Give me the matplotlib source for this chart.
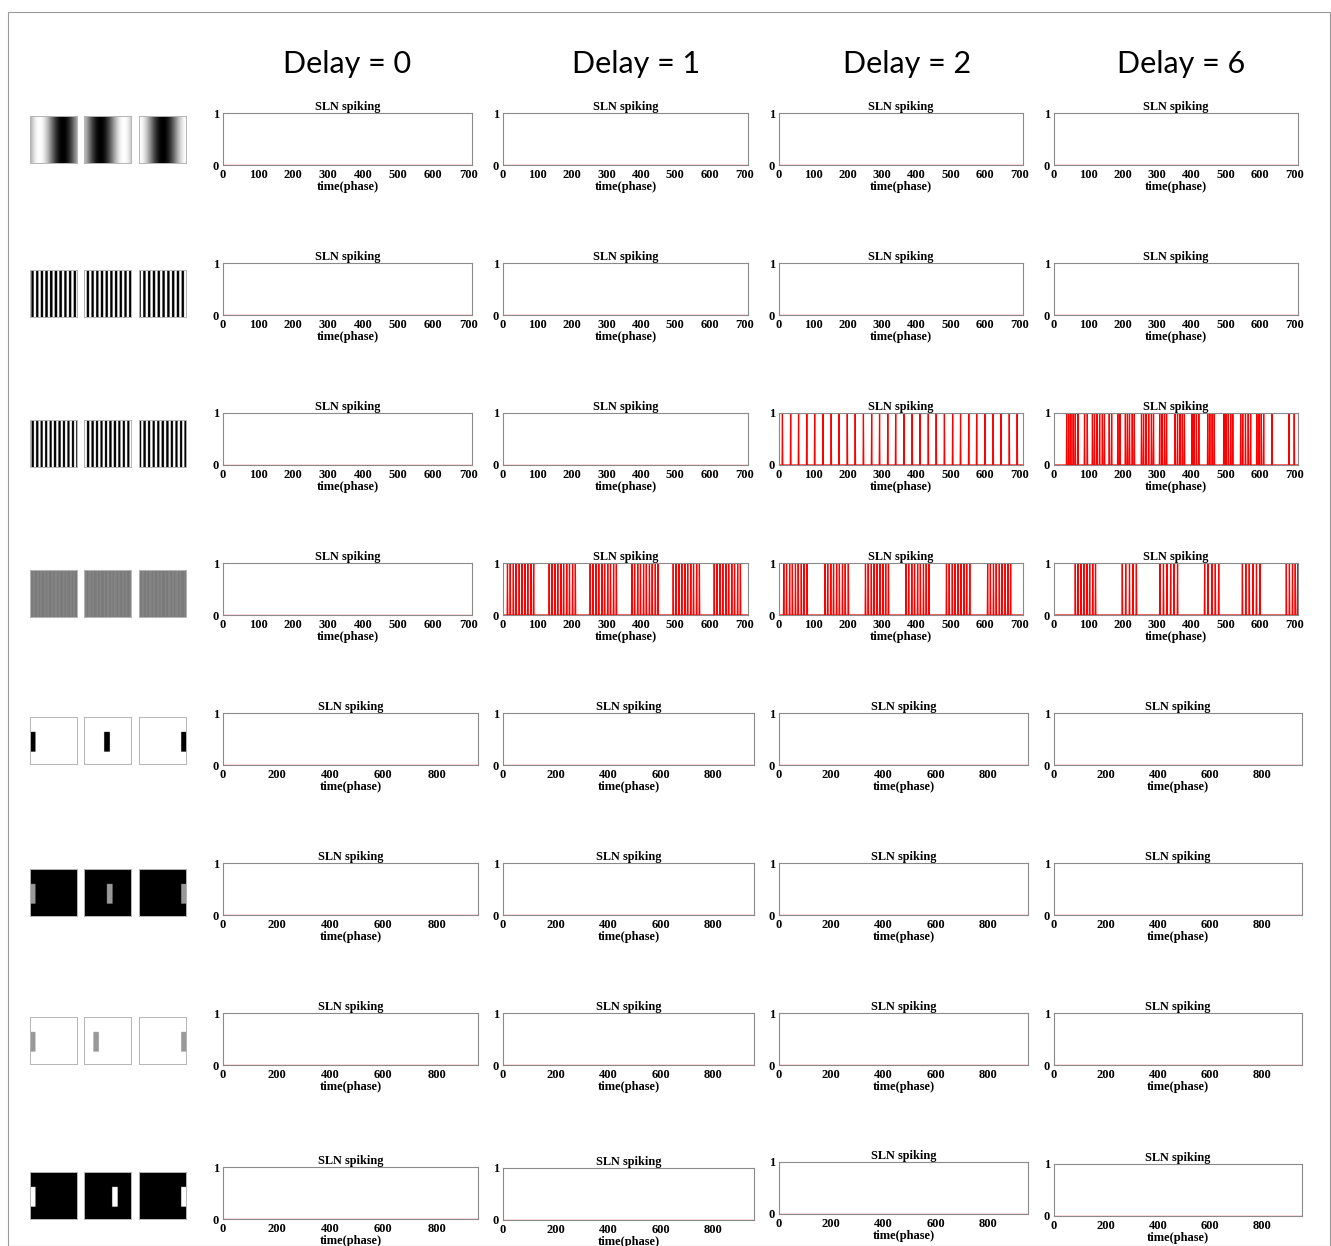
import matplotlib
matplotlib.use("Agg")
import matplotlib.pyplot as plt
from matplotlib.patches import Rectangle
import numpy as np

W, H = 1331, 1246
DPI = 100

SERIF = "Liberation Serif"
SPINE = "#8a8a8a"

delays = [0, 1, 2, 6]
# length of the recording (phases) for each stimulus row
row_length = [711, 711, 711, 711, 955, 955, 955, 955]
row_xticks = [list(range(0, 701, 100))] * 4 + [list(range(0, 801, 200))] * 4

# spike times
spikes_r3_d2 = [10, 34, 57, 81, 104, 128, 152, 175, 199, 222, 246, 270, 293,
                317, 340, 364, 388, 411, 435, 458, 482, 506, 529, 553, 576,
                600, 624, 647, 671, 694]
spikes_r3_d6 = [37, 43, 49, 56, 62, 70, 89, 97, 112, 118, 125, 133, 141, 147,
                161, 168, 186, 192, 208, 214, 220, 228, 234, 255, 261, 268,
                276, 284, 290, 308, 315, 322, 328, 353, 360, 367, 374, 380,
                402, 408, 415, 422, 448, 454, 461, 467, 495, 501, 508, 515,
                521, 544, 550, 558, 566, 573, 591, 597, 604, 611, 635, 685, 700]
spikes_r4_d1 = [13, 21, 30, 38, 47, 55, 64, 72, 81, 89,
                134, 142, 151, 159, 168, 176, 185, 193, 202, 210,
                253, 261, 270, 278, 287, 295, 304, 312, 321, 329,
                374, 382, 391, 399, 408, 416, 425, 433, 442, 450,
                494, 502, 511, 519, 528, 536, 545, 553, 562, 570,
                613, 621, 630, 638, 647, 655, 664, 672, 681, 689]
spikes_r4_d2 = [14, 22, 31, 39, 48, 56, 65, 73, 82,
                134, 142, 151, 159, 168, 176, 185, 193, 202,
                252, 260, 269, 277, 286, 294, 303, 311, 319,
                370, 378, 387, 395, 404, 412, 421, 429, 437,
                488, 496, 505, 513, 522, 530, 539, 547, 556,
                608, 616, 625, 633, 642, 650, 659, 667, 675]
spikes_r4_d6 = [62, 70, 79, 87, 96, 104, 113, 121,
                199, 209, 220, 230, 240,
                309, 319, 329, 340, 350, 360,
                439, 449, 460, 470, 480,
                549, 559, 569, 580, 590, 600,
                677, 686, 695, 703, 710]

panel_spikes = {
    (2, 2): spikes_r3_d2, (2, 3): spikes_r3_d6,
    (3, 1): spikes_r4_d1, (3, 2): spikes_r4_d2, (3, 3): spikes_r4_d6,
}

# stimulus descriptions
grating_period = [1.0, 0.1, 0.095, 0.022]          # fraction of image width
grating_phase = [[0.2, 0.85, 0.0], [0.0, 0.3, 0.6], [0.1, 0.4, 0.7], [0.0, 0.3, 0.6]]
grating_square = [False, True, True, True]
grating_contrast = [1.0, 1.0, 1.0, 0.18]
bar_bg = [1.0, 0.0, 1.0, 0.0]
bar_fg = [0.0, 0.6, 0.6, 1.0]
bar_x = [[0.0, 0.43, 0.88], [0.0, 0.49, 0.88], [0.0, 0.2, 0.88], [0.0, 0.6, 0.88]]

# layout in pixels
plot_top = [113, 263, 413, 563, 713, 863, 1013, 1167]
last_row_top = [1167, 1168, 1162, 1164]
plot_h = 52
cols_short = [(223, 472), (503, 748), (779, 1023), (1054, 1298)]
cols_long = [(223, 478), (503, 754), (779, 1028), (1054, 1302)]
title_x = [347, 636, 907, 1181]
stim_top = [116, 270, 420, 570, 717, 869, 1017, 1172]
stim_left = [30, 84, 139]
stim_size = 47


def px_axes(fig, left, top, right, bottom):
    return fig.add_axes([left / W, 1 - bottom / H, (right - left) / W, (bottom - top) / H])


def grating_img(period, phase, square, contrast, n=240):
    x = np.arange(n) / n
    s = np.cos(2 * np.pi * (x / period - phase))
    if square:
        s = np.sign(s)
    return np.tile(0.5 + 0.5 * contrast * s, (n, 1))


def bar_img(bg, fg, x0, n=240):
    img = np.full((n, n), bg)
    img[int(0.32 * n):int(0.74 * n), int(x0 * n):int((x0 + 0.12) * n)] = fg
    return img


def render():
    fig = plt.figure(figsize=(W / DPI, H / DPI), dpi=DPI)
    fig.patches.append(Rectangle((8 / W, 0), 1322 / W, 1 - 12 / H, transform=fig.transFigure,
                                 fill=False, edgecolor="#9a9a9a", linewidth=0.8))

    for c, d in enumerate(delays):
        fig.text(title_x[c] / W, 1 - 64 / H, f"Delay = {d}", ha="center", va="center",
                 fontsize=22, family="Lato")

    for row in range(8):
        # stimulus thumbnails
        for k in range(3):
            ax = px_axes(fig, stim_left[k], stim_top[row],
                         stim_left[k] + stim_size, stim_top[row] + stim_size)
            if row < 4:
                img = grating_img(grating_period[row], grating_phase[row][k],
                                  grating_square[row], grating_contrast[row])
            else:
                img = bar_img(bar_bg[row - 4], bar_fg[row - 4], bar_x[row - 4][k])
            ax.imshow(img, cmap="gray", vmin=0, vmax=1, aspect="auto")
            ax.set_xticks([])
            ax.set_yticks([])
            for sp in ax.spines.values():
                sp.set_color("#b5b5b5")
                sp.set_linewidth(0.7)

        # spiking panels
        cols = cols_short if row < 4 else cols_long
        T = row_length[row]
        for c in range(4):
            l, r = cols[c]
            top = last_row_top[c] if row == 7 else plot_top[row]
            ax = px_axes(fig, l, top, r, top + plot_h)
            t = np.arange(T + 1)
            train = np.zeros(T + 1)
            train[panel_spikes.get((row, c), [])] = 1
            ax.plot(t, train, color="red", linewidth=0.9)
            ax.set_xlim(0, T)
            ax.set_ylim(0, 1)
            ax.set_xticks(row_xticks[row])
            ax.set_yticks([0, 1])
            ax.tick_params(length=0, pad=3)
            for lab in ax.get_xticklabels() + ax.get_yticklabels():
                lab.set_fontfamily(SERIF)
                lab.set_fontweight("bold")
                lab.set_fontsize(9)
            ax.set_title("SLN spiking", fontsize=8.8, fontweight="bold",
                         family=SERIF, pad=1.5)
            ax.set_xlabel("time(phase)", fontsize=9, fontweight="bold",
                          family=SERIF, labelpad=0)
            for sp in ax.spines.values():
                sp.set_color(SPINE)
                sp.set_linewidth(0.8)

    fig.savefig("out.png", dpi=DPI, facecolor="white")
    plt.close(fig)


if __name__ == "__main__":
    render()
